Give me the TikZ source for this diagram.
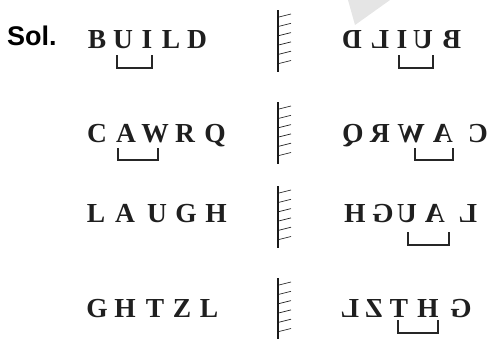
\documentclass[tikz,border=0pt]{standalone}
\usepackage{fontspec}
\usepackage{graphicx}
\newfontfamily\letterfont{Liberation Serif}
\newfontfamily\solfont{Liberation Sans}
\begin{document}
\begin{tikzpicture}[x=1pt,y=-1pt,
  letter/.style={anchor=base,inner sep=0pt,font=\letterfont\bfseries\fontsize{27.5}{27.5}\selectfont,text=black!88},
  mirrorline/.style={line width=2.6pt,draw=black!90},
  hatch/.style={line width=0.7pt,draw=black!85},
  bracket/.style={line width=1.4pt,draw=black!85}]
\useasboundingbox (0,0) rectangle (488,338);
\fill[black!10] (348,0) -- (390,0) -- (355,25) -- cycle;
\node[anchor=base west,inner sep=0pt,font=\solfont\bfseries\fontsize{27}{27}\selectfont] (sol) at (7,45) {Sol.};
% original words
\foreach \x/\l/\n in {97/B/1,123/U/2,147/I/3,171/L/4,197/D/5}
  \node[letter] (a\n) at (\x,48) {\l};
\foreach \x/\l/\n in {97/C/1,126/A/2,155/W/3,185/R/4,215/Q/5}
  \node[letter] (b\n) at (\x,142) {\l};
\foreach \x/\l/\n in {96/L/1,125/A/2,157/U/3,186/G/4,216/H/5}
  \node[letter] (c\n) at (\x,222) {\l};
\foreach \x/\l/\n in {97/G/1,125/H/2,155/T/3,182/Z/4,209/L/5}
  \node[letter] (d\n) at (\x,317) {\l};
% mirrored words
\foreach \x/\l/\n in {352/D/1,380/L/2,402/I/3,423/U/4,452/B/5}
  \node[letter] (ma\n) at (\x,48) {\reflectbox{\l}};
\foreach \x/\l/\n in {353/Q/1,380/R/2,411/W/3,443/A/4,478/C/5}
  \node[letter] (mb\n) at (\x,142) {\reflectbox{\l}};
\foreach \x/\l/\n in {355/H/1,383/G/2,407/U/3,435/A/4,468/L/5}
  \node[letter] (mc\n) at (\x,222) {\reflectbox{\l}};
\foreach \x/\l/\n in {350/L/1,374/Z/2,399/T/3,428/H/4,461/G/5}
  \node[letter] (md\n) at (\x,317) {\reflectbox{\l}};
% mirrors
\foreach \t in {10,102,186,278}{
  \draw[mirrorline] (278,\t) -- ++(0,62);
  \foreach \i in {0,...,5}
    \draw[hatch] (279,\t+7+9.3*\i) -- ++(12,-3);
}
% brackets
\draw[bracket] (117,55) -- (117,68) -- (152,68) -- (152,55);
\draw[bracket] (399,55) -- (399,68) -- (433,68) -- (433,55);
\draw[bracket] (118,148) -- (118,160) -- (158,160) -- (158,148);
\draw[bracket] (415,148) -- (415,160) -- (453,160) -- (453,148);
\draw[bracket] (408,232) -- (408,245) -- (449,245) -- (449,232);
\draw[bracket] (398,320) -- (398,333) -- (438,333) -- (438,320);
\end{tikzpicture}
\end{document}
